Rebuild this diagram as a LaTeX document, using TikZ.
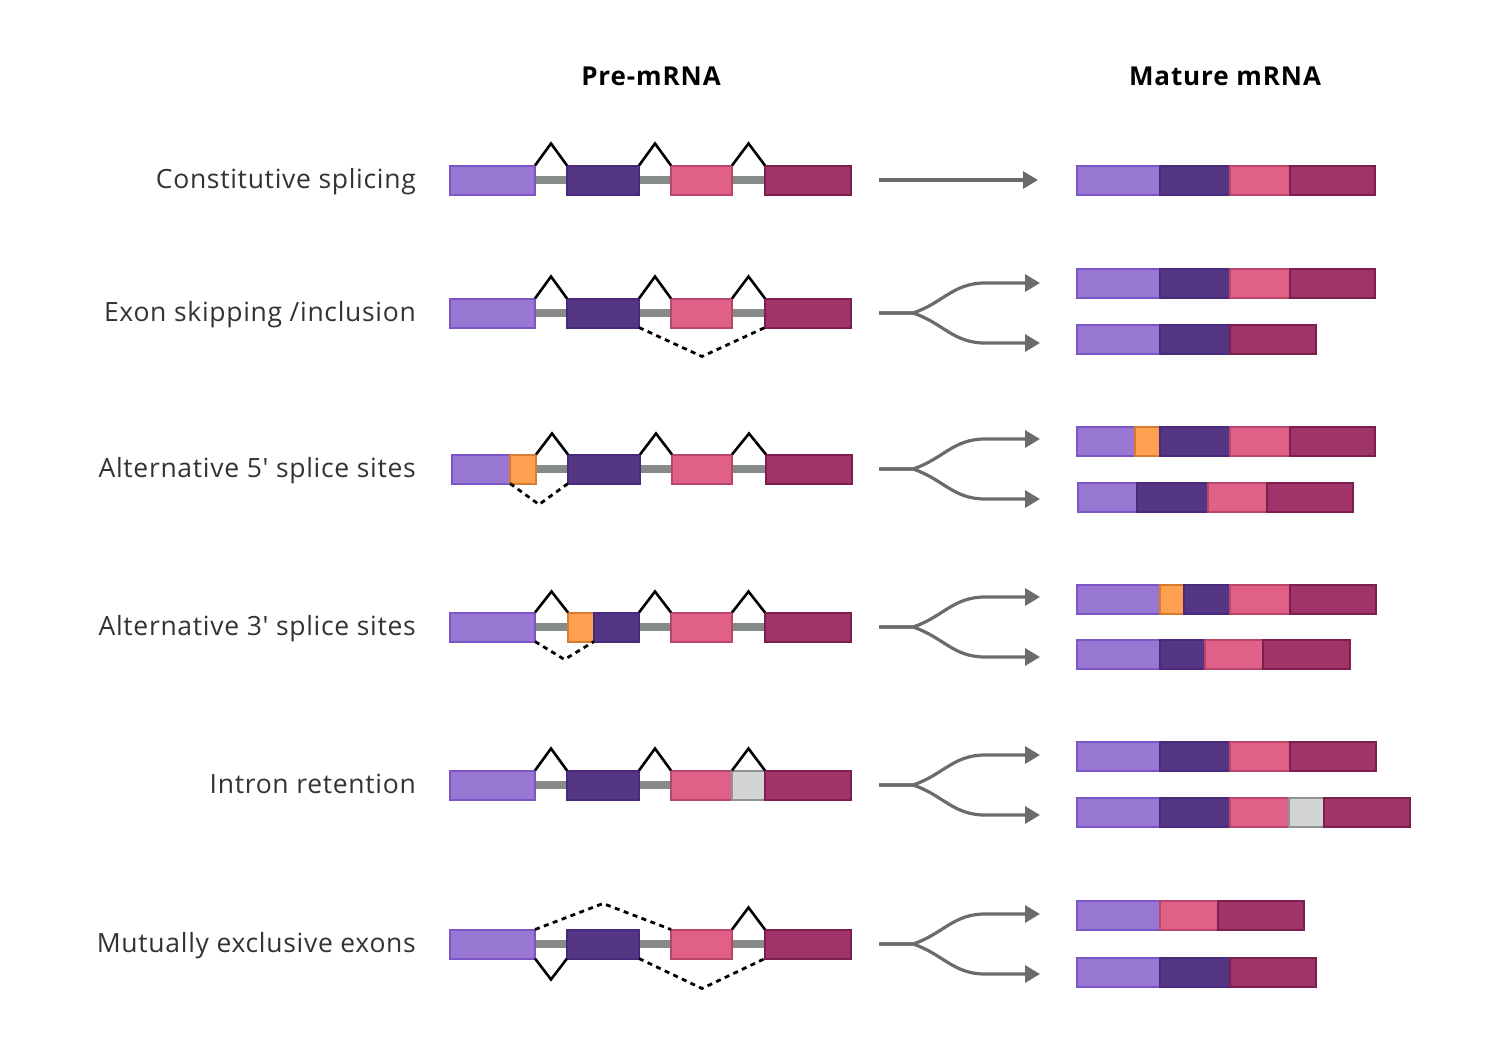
\documentclass[tikz,border=0pt]{standalone}
\usepackage{fontspec}
\newfontfamily\labfont{Open Sans}[LetterSpace=2.6]
\newfontfamily\headfont{Open Sans}[LetterSpace=3.5,BoldFont={Open Sans Bold}]
\usetikzlibrary{calc,arrows.meta}
\definecolor{lpF}{HTML}{9878D2}\definecolor{lpD}{HTML}{7C55C8}
\definecolor{dpF}{HTML}{553685}\definecolor{dpD}{HTML}{48297E}
\definecolor{pkF}{HTML}{E06088}\definecolor{pkD}{HTML}{B8456A}
\definecolor{mrF}{HTML}{A0336A}\definecolor{mrD}{HTML}{7D1F4E}
\definecolor{orF}{HTML}{FFA050}\definecolor{orD}{HTML}{D87A30}
\definecolor{grF}{HTML}{D3D5D5}\definecolor{grD}{HTML}{8E9393}
\definecolor{intronC}{HTML}{868B89}
\definecolor{arrowC}{HTML}{6B6B6B}
\definecolor{textC}{HTML}{333333}
\pgfdeclarelayer{bg}\pgfsetlayers{bg,main}
\tikzset{
  seg/.style={rectangle,inner sep=0pt,outer sep=0pt,minimum height=29pt,line width=2pt},
  lp/.style={fill=lpF,draw=lpD},
  dp/.style={fill=dpF,draw=dpD},
  pk/.style={fill=pkF,draw=pkD},
  mr/.style={fill=mrF,draw=mrD},
  orx/.style={fill=orF,draw=orD},
  grx/.style={fill=grF,draw=grD},
  intron/.style={draw=intronC,line width=8pt},
  caret/.style={draw=black,line width=2.6pt,line join=miter},
  dots/.style={draw=black,line width=2.8pt,dash pattern=on 5pt off 4.5pt},
  arr/.style={draw=arrowC,line width=3.2pt,-{Triangle[length=15pt,width=17pt]}},
  lab/.style={text=textC,font=\labfont\fontsize{26.5}{30}\selectfont,inner sep=0pt,anchor=base east},
  head/.style={text=black,font=\headfont\fontsize{26}{30}\selectfont\bfseries,inner sep=0pt,anchor=base},
}
\newcommand\seg[5]{\node[seg,#2,minimum width={#4-#3},anchor=west] (#1) at (#3,#5) {};}
\newcommand\caretup[3]{\draw[caret] (#1.north east) -- ($(#1.north east)!0.5!(#2.north west)+(0,-#3)$) -- (#2.north west);}
\newcommand\caretdn[3]{\draw[caret] (#1.south east) -- ($(#1.south east)!0.5!(#2.south west)+(0,#3)$) -- (#2.south west);}
\newcommand\intr[2]{\begin{pgfonlayer}{bg}\draw[intron] (#1.east) -- (#2.west);\end{pgfonlayer}}
\newcommand\branch[2]{%
  \coordinate (s#1) at (879,#2);
  \coordinate (t#1) at (1040,#2-30);
  \coordinate (u#1) at (1040,#2+30);
  \draw[arr] (s#1) -- ++(34,0) .. controls +(30,-10) and +(-32,0) .. (985,#2-30) -- (t#1);
  \draw[arr] (s#1) -- ++(34,0) .. controls +(30,10) and +(-32,0) .. (985,#2+30) -- (u#1);
}
\begin{document}
\begin{tikzpicture}[x=1pt,y=-1pt]
\useasboundingbox (0,0) rectangle (1500,1050);
% headers
\node[head] (h1) at (651,85) {Pre-mRNA};
\node[head] (h2) at (1225,85) {Mature mRNA};
% labels
\node[lab] (l1) at (416,188) {Constitutive splicing};
\node[lab] (l2) at (416,321) {Exon skipping /inclusion};
\node[lab] (l3) at (416,477) {Alternative 5' splice sites};
\node[lab] (l4) at (416,635) {Alternative 3' splice sites};
\node[lab] (l5) at (416,793) {Intron retention};
\node[lab] (l6) at (416,952) {Mutually exclusive exons};
% ---- Row 1
\seg{a1}{lp}{450}{535}{180}\seg{b1}{dp}{567}{639}{180}\seg{c1}{pk}{671}{732}{180}\seg{d1}{mr}{765}{851}{180}
\intr{a1}{b1}\intr{b1}{c1}\intr{c1}{d1}
\caretup{a1}{b1}{22}\caretup{b1}{c1}{22}\caretup{c1}{d1}{22}
% ---- Row 2
\seg{a2}{lp}{450}{535}{313}\seg{b2}{dp}{567}{639}{313}\seg{c2}{pk}{671}{732}{313}\seg{d2}{mr}{765}{851}{313}
\intr{a2}{b2}\intr{b2}{c2}\intr{c2}{d2}
\caretup{a2}{b2}{22}\caretup{b2}{c2}{22}\caretup{c2}{d2}{22}
\draw[dots] (b2.south east) -- ($(b2.south east)!0.5!(d2.south west)+(0,29)$) -- (d2.south west);
% ---- Row 3
\seg{a3}{lp}{452}{510}{469}\seg{o3}{orx}{510}{536}{469}\seg{b3}{dp}{568}{640}{469}\seg{c3}{pk}{672}{732}{469}\seg{d3}{mr}{766}{852}{469}
\intr{o3}{b3}\intr{b3}{c3}\intr{c3}{d3}
\caretup{o3}{b3}{21}\caretup{b3}{c3}{21}\caretup{c3}{d3}{21}
\draw[dots] (a3.south east) -- ($(a3.south east)!0.5!(b3.south west)+(0,21)$) -- (b3.south west);
% ---- Row 4
\seg{a4}{lp}{450}{535}{627}\seg{o4}{orx}{568}{594}{627}\seg{b4}{dp}{594}{639}{627}\seg{c4}{pk}{671}{732}{627}\seg{d4}{mr}{765}{851}{627}
\intr{a4}{o4}\intr{b4}{c4}\intr{c4}{d4}
\caretup{a4}{o4}{21}\caretup{b4}{c4}{21}\caretup{c4}{d4}{21}
\draw[dots] (a4.south east) -- ($(a4.south east)!0.5!(o4.south east)+(0,18)$) -- (o4.south east);
% ---- Row 5
\seg{a5}{lp}{450}{535}{785}\seg{b5}{dp}{567}{639}{785}\seg{c5}{pk}{671}{732}{785}\seg{g5}{grx}{732}{765}{785}\seg{d5}{mr}{765}{851}{785}
\intr{a5}{b5}\intr{b5}{c5}
\caretup{a5}{b5}{22}\caretup{b5}{c5}{22}\caretup{c5}{d5}{22}
% ---- Row 6
\seg{a6}{lp}{450}{535}{944}\seg{b6}{dp}{567}{639}{944}\seg{c6}{pk}{671}{732}{944}\seg{d6}{mr}{765}{851}{944}
\intr{a6}{b6}\intr{b6}{c6}\intr{c6}{d6}
\caretdn{a6}{b6}{21}\caretup{c6}{d6}{22}
\draw[dots] (a6.north east) -- ($(a6.north east)!0.5!(c6.north west)+(0,-26)$) -- (c6.north west);
\draw[dots] (b6.south east) -- ($(b6.south east)!0.5!(d6.south west)+(0,30)$) -- (d6.south west);
% ---- Arrows
\coordinate (s1) at (879,180); \coordinate (t1) at (1038,180);
\draw[arr] (s1) -- (t1);
\branch{2}{313}\branch{3}{469}\branch{4}{627}\branch{5}{785}\branch{6}{944}
% ---- Mature
\seg{m1a}{lp}{1077}{1160}{180}\seg{m1b}{dp}{1160}{1230}{180}\seg{m1c}{pk}{1230}{1290}{180}\seg{m1d}{mr}{1290}{1375}{180}
\seg{m2a}{lp}{1077}{1160}{283}\seg{m2b}{dp}{1160}{1230}{283}\seg{m2c}{pk}{1230}{1290}{283}\seg{m2d}{mr}{1290}{1375}{283}
\seg{n2a}{lp}{1077}{1160}{339}\seg{n2b}{dp}{1160}{1230}{339}\seg{n2d}{mr}{1230}{1316}{339}
\seg{m3a}{lp}{1077}{1135}{441}\seg{m3o}{orx}{1135}{1160}{441}\seg{m3b}{dp}{1160}{1230}{441}\seg{m3c}{pk}{1230}{1290}{441}\seg{m3d}{mr}{1290}{1375}{441}
\seg{n3a}{lp}{1078}{1137}{497}\seg{n3b}{dp}{1137}{1208}{497}\seg{n3c}{pk}{1208}{1267}{497}\seg{n3d}{mr}{1267}{1353}{497}
\seg{m4a}{lp}{1077}{1160}{599}\seg{m4o}{orx}{1160}{1184}{599}\seg{m4b}{dp}{1184}{1230}{599}\seg{m4c}{pk}{1230}{1290}{599}\seg{m4d}{mr}{1290}{1376}{599}
\seg{n4a}{lp}{1077}{1160}{654}\seg{n4b}{dp}{1160}{1205}{654}\seg{n4c}{pk}{1205}{1263}{654}\seg{n4d}{mr}{1263}{1350}{654}
\seg{m5a}{lp}{1077}{1160}{756}\seg{m5b}{dp}{1160}{1230}{756}\seg{m5c}{pk}{1230}{1290}{756}\seg{m5d}{mr}{1290}{1376}{756}
\seg{n5a}{lp}{1077}{1160}{812}\seg{n5b}{dp}{1160}{1230}{812}\seg{n5c}{pk}{1230}{1289}{812}\seg{n5g}{grx}{1289}{1324}{812}\seg{n5d}{mr}{1324}{1410}{812}
\seg{m6a}{lp}{1077}{1160}{915}\seg{m6c}{pk}{1160}{1218}{915}\seg{m6d}{mr}{1218}{1304}{915}
\seg{n6a}{lp}{1077}{1160}{972}\seg{n6b}{dp}{1160}{1230}{972}\seg{n6d}{mr}{1230}{1316}{972}
\end{tikzpicture}
\end{document}
